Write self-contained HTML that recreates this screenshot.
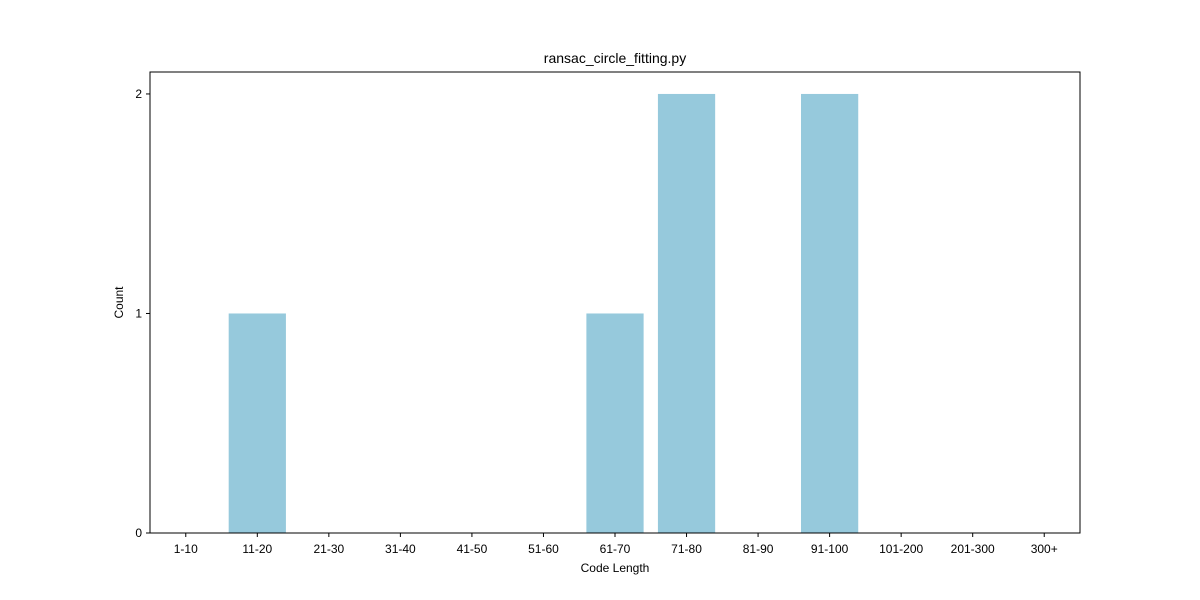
<!DOCTYPE html>
<html><head><meta charset="utf-8"><style>
body{margin:0;background:#fff;}
svg{display:block;font-family:"Liberation Sans",sans-serif;}
</style></head><body>
<svg id="chart" width="1200" height="600"></svg>
<script>
const categories=["1-10","11-20","21-30","31-40","41-50","51-60","61-70","71-80","81-90","91-100","101-200","201-300","300+"];
const counts=[0,1,0,0,0,0,1,2,0,2,0,0,0];
const yTicks=[0,1,2];
const ns="http://www.w3.org/2000/svg";
const svg=document.getElementById('chart');
const L=150,R=1080,T=72,B=533;
const xMin=-0.5,xMax=categories.length-0.5,yMax=2.1;
const xs=v=>L+(v-xMin)/(xMax-xMin)*(R-L);
const ys=v=>B-v/yMax*(B-T);
function mk(tag,attrs,parent){const e=document.createElementNS(ns,tag);for(const k in attrs)e.setAttribute(k,attrs[k]);(parent||svg).appendChild(e);return e;}
const bars=mk('g',{});


counts.forEach((c,i)=>{
  const r=mk('rect',{x:xs(i-0.4),y:ys(c),width:xs(i+0.4)-xs(i-0.4),height:B-ys(c),fill:'#96c9dc'},bars);
  
  
});
const frame=mk('rect',{x:L,y:T,width:R-L,height:B-T,fill:'none',stroke:'#000','stroke-width':1});


categories.forEach((c,i)=>{
  mk('line',{x1:xs(i),x2:xs(i),y1:B,y2:B+4,stroke:'#000'});
  const t=mk('text',{x:xs(i),y:B+20,'text-anchor':'middle','font-size':12});
  t.textContent=c;
  
  
});
yTicks.forEach(v=>{
  mk('line',{x1:L-4,x2:L,y1:ys(v),y2:ys(v),stroke:'#000'});
  const t=mk('text',{x:L-8,y:ys(v)+4,'text-anchor':'end','font-size':12});
  t.textContent=v;
  
  
});
const title=mk('text',{x:(L+R)/2,y:63,'text-anchor':'middle','font-size':14});
title.textContent='ransac_circle_fitting.py';


const xl=mk('text',{x:(L+R)/2,y:572,'text-anchor':'middle','font-size':12});
xl.textContent='Code Length';


const yl=mk('text',{x:123,y:(T+B)/2,'text-anchor':'middle','font-size':12,transform:'rotate(-90 123 '+((T+B)/2)+')'});
yl.textContent='Count';


</script>
</body></html>
